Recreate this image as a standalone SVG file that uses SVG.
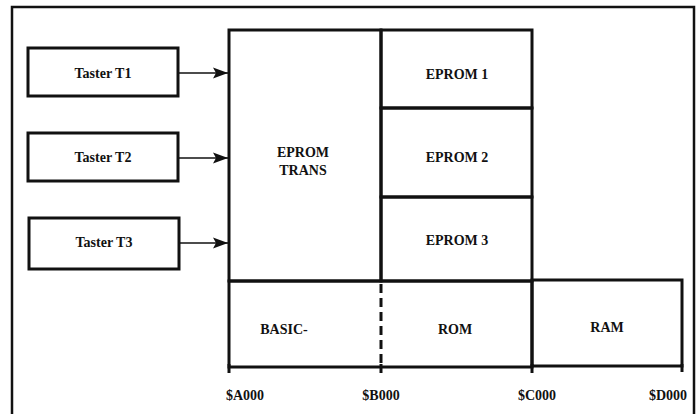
<svg xmlns="http://www.w3.org/2000/svg" width="699" height="414" viewBox="0 0 699 414">
<style>
  .box { fill: none; stroke: #111; stroke-width: 3; }
  .frame { fill: none; stroke: #111; stroke-width: 2.5; }
  .conn { stroke: #111; stroke-width: 1.6; fill: none; }
  .tick { stroke: #111; stroke-width: 3; }
  .dash { stroke: #111; stroke-width: 3; stroke-dasharray: 9 5; }
  text { font-family: "Liberation Serif", "Times New Roman", serif; font-weight: bold; font-size: 14px; fill: #111; text-anchor: middle; }
</style>
<defs>
  <marker id="arr" markerWidth="16" markerHeight="12" refX="15" refY="6" orient="auto" markerUnits="userSpaceOnUse">
    <path d="M0,0.5 L15,6 L0,11.5 L3,6 Z" fill="#111"/>
  </marker>
</defs>
<rect width="699" height="414" fill="#fff"/>
<path class="frame" d="M12,414 V7 H694 V414"/>

<g id="taster-t1">
  <rect class="box" x="28" y="48" width="150" height="48"/>
  <text x="103" y="78">Taster T1</text>
</g>
<g id="taster-t2">
  <rect class="box" x="28" y="133" width="150" height="48"/>
  <text x="103" y="162">Taster T2</text>
</g>
<g id="taster-t3">
  <rect class="box" x="29" y="218" width="150" height="51"/>
  <text x="104" y="247">Taster T3</text>
</g>

<g id="eprom-trans">
  <rect class="box" x="229" y="30" width="152" height="251"/>
  <text x="303" y="157">EPROM</text>
  <text x="303" y="175">TRANS</text>
</g>
<g id="eprom-1">
  <rect class="box" x="381" y="30" width="151" height="78"/>
  <text x="457" y="79">EPROM 1</text>
</g>
<g id="eprom-2">
  <rect class="box" x="381" y="108" width="151" height="89"/>
  <text x="457" y="162">EPROM 2</text>
</g>
<g id="eprom-3">
  <rect class="box" x="381" y="197" width="151" height="84"/>
  <text x="457" y="245">EPROM 3</text>
</g>
<g id="basic-rom">
  <rect class="box" x="229" y="281" width="303" height="86"/>
  <line class="dash" x1="381" y1="284" x2="381" y2="364"/>
  <text x="284" y="334">BASIC-</text>
  <text x="455" y="334">ROM</text>
</g>
<g id="ram">
  <rect class="box" x="532" y="280" width="150" height="86"/>
  <text x="607" y="332">RAM</text>
</g>

<g id="axis">
  <line class="tick" x1="229" y1="364" x2="229" y2="373"/>
  <line class="tick" x1="381" y1="364" x2="381" y2="373"/>
  <line class="tick" x1="532" y1="364" x2="532" y2="373"/>
  <line class="tick" x1="682" y1="364" x2="682" y2="372"/>
  <text x="245" y="400">$A000</text>
  <text x="381" y="400">$B000</text>
  <text x="537" y="400">$C000</text>
  <text x="668" y="400">$D000</text>
</g>

<g id="connectors">
  <line class="conn" x1="179" y1="73" x2="228" y2="73" marker-end="url(#arr)"/>
  <line class="conn" x1="179" y1="158" x2="228" y2="158" marker-end="url(#arr)"/>
  <line class="conn" x1="180" y1="243" x2="228" y2="243" marker-end="url(#arr)"/>
</g>
</svg>
